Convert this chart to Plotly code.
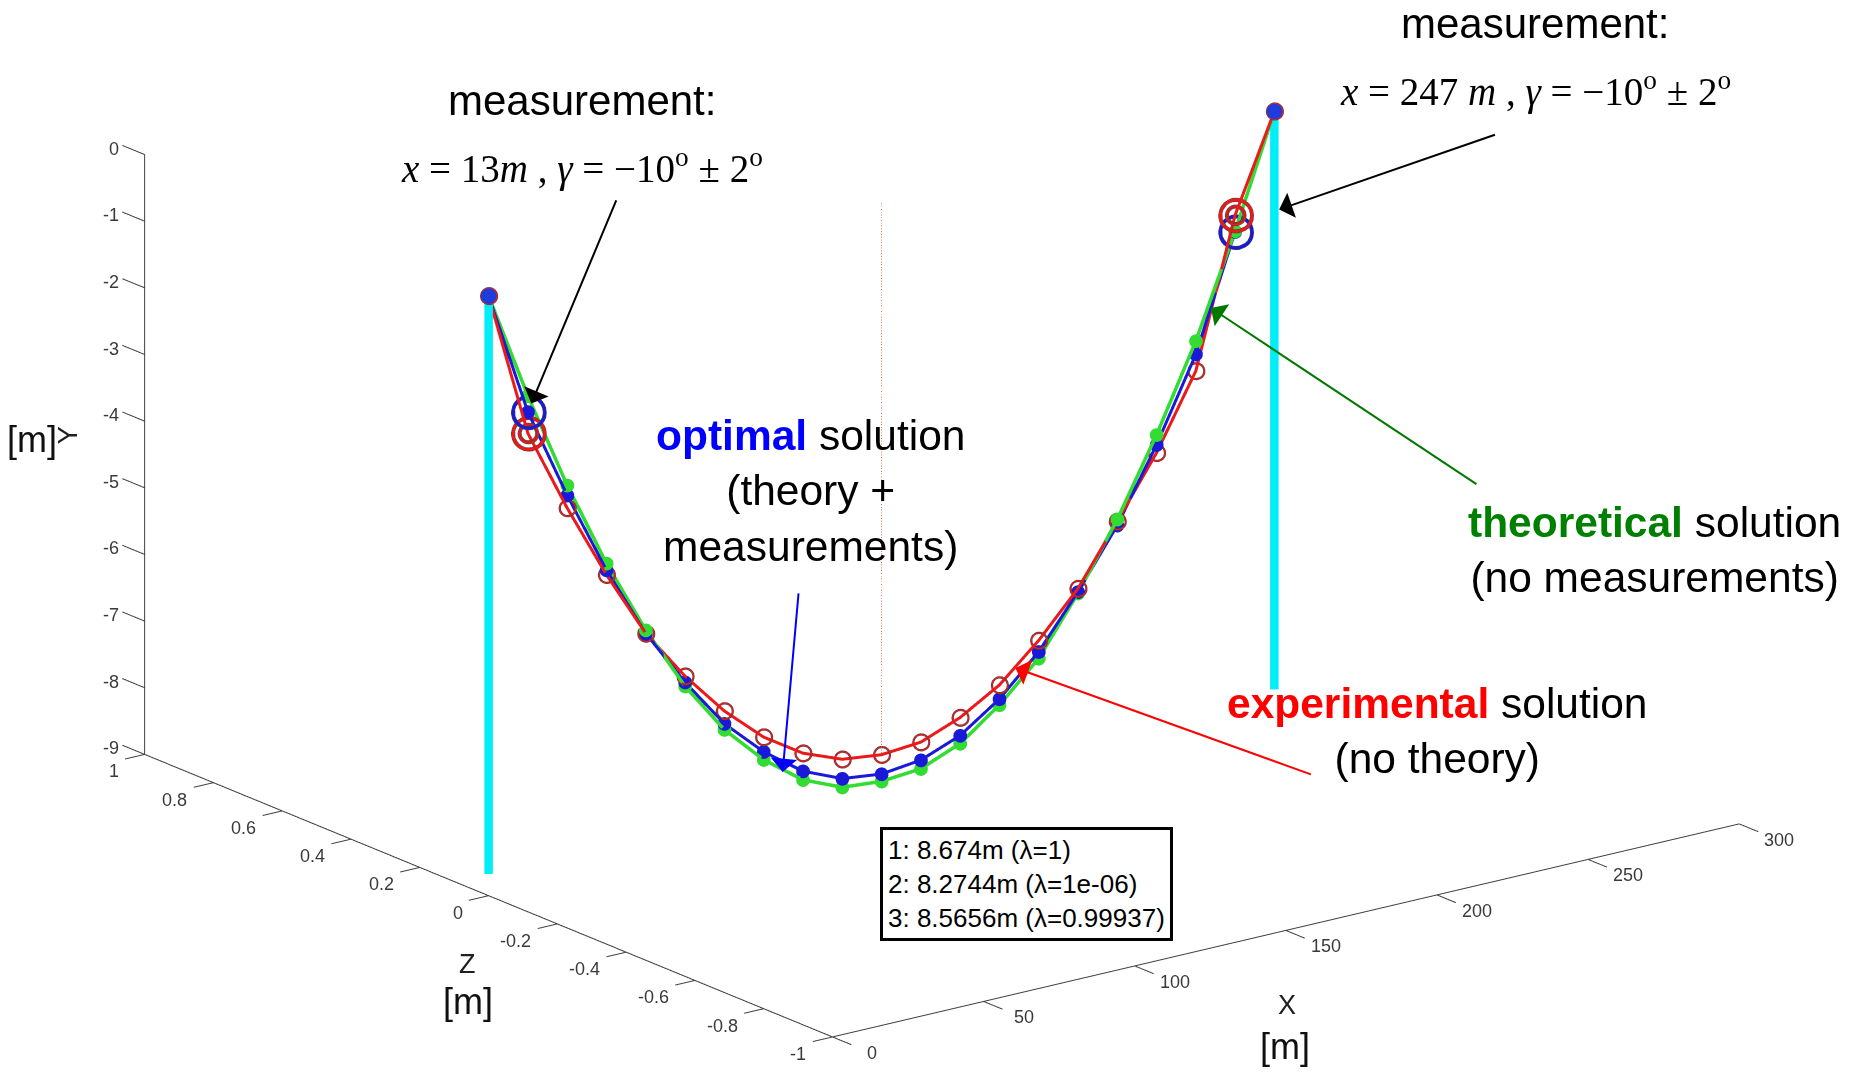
import math
import plotly.graph_objects as go

# ---- cable model data -------------------------------------------------------
# node positions along the span [m]
x_nodes = [0, 13, 26, 39, 52, 65, 78, 91, 104, 117, 130,
           143, 156, 169, 182, 195, 208, 221, 234, 247, 260]

# vertical node positions [m]
y_theoretical = [0.0, -1.64, -3.12, -4.43, -5.57, -6.55, -7.34, -7.93, -8.37, -8.62, -8.67,
                 -8.62, -8.38, -7.94, -7.38, -6.54, -5.57, -4.44, -3.17, -1.66, 0.0]
y_experimental = [0.0, -2.20, -3.46, -4.60, -5.62, -6.40, -7.06, -7.59, -7.97, -8.20, -8.27,
                  -8.22, -7.99, -7.64, -7.11, -6.47, -5.60, -4.71, -3.62, -1.42, 0.0]
y_optimal = [0.0, -1.88, -3.27, -4.53, -5.62, -6.49, -7.25, -7.81, -8.24, -8.49, -8.56,
             -8.49, -8.26, -7.85, -7.28, -6.52, -5.66, -4.59, -3.37, -1.67, 0.0]

# out-of-plane coordinate of the cable (planar cable)
z_cable = 0.0

# indices of the measured nodes (x = 13 m and x = 247 m)
measured_idx = [1, 19]

# supports and sag values
support_x = [0, 260]
support_depth = -8.674
mid_x = 130
mid_sag = -8.2744

sag_lines = ["1: 8.674m (λ=1)", "2: 8.2744m (λ=1e-06)", "3: 8.5656m (λ=0.99937)"]

# axes
x_ticks = [0, 50, 100, 150, 200, 250, 300]
z_ticks = [1, 0.8, 0.6, 0.4, 0.2, 0, -0.2, -0.4, -0.6, -0.8, -1]
y_ticks = [0, -1, -2, -3, -4, -5, -6, -7, -8, -9]
x_lim = [0, 300]
z_lim = [-1, 1]
y_lim = [-9, 0]

W, H = 1855, 1074
AXIS_COLOR = "#404040"
RED = "rgb(235,25,25)"
BLUE = "rgb(25,25,215)"
GREEN = "rgb(50,220,50)"
CYAN = "rgb(0,238,248)"

fig = go.Figure()

# supports (poles)
for sx in support_x:
    fig.add_trace(go.Scatter3d(
        x=[sx, sx], y=[z_cable, z_cable], z=[0, support_depth],
        mode="lines", line=dict(color=CYAN, width=17),
        hoverinfo="skip", showlegend=False))

# mid-span reference line
fig.add_trace(go.Scatter3d(
    x=[mid_x, mid_x], y=[z_cable, z_cable], z=[0, mid_sag],
    mode="lines", line=dict(color="rgb(215,120,100)", width=2, dash="dot"),
    hoverinfo="skip", showlegend=False))

zc = [z_cable] * len(x_nodes)

# theoretical solution
fig.add_trace(go.Scatter3d(
    x=x_nodes, y=zc, z=y_theoretical, mode="lines+markers",
    line=dict(color=GREEN, width=7),
    marker=dict(symbol="circle", size=8, color=GREEN),
    hoverinfo="skip", showlegend=False))

# optimal solution
fig.add_trace(go.Scatter3d(
    x=x_nodes, y=zc, z=y_optimal, mode="lines+markers",
    line=dict(color=BLUE, width=6),
    marker=dict(symbol="circle", size=8, color=BLUE),
    hoverinfo="skip", showlegend=False))

# experimental solution
fig.add_trace(go.Scatter3d(
    x=x_nodes, y=zc, z=y_experimental, mode="lines+markers",
    line=dict(color=RED, width=6),
    marker=dict(symbol="circle-open", size=10, color=RED, line=dict(width=2)),
    hoverinfo="skip", showlegend=False))

# support end points
fig.add_trace(go.Scatter3d(
    x=support_x, y=[z_cable] * 2, z=[y_optimal[0], y_optimal[-1]], mode="markers",
    marker=dict(symbol="circle", size=9, color="rgb(30,60,220)"),
    hoverinfo="skip", showlegend=False))

# measured nodes
mx = [x_nodes[i] for i in measured_idx]
mz = [z_cable] * len(measured_idx)
fig.add_trace(go.Scatter3d(
    x=mx, y=mz, z=[y_optimal[i] for i in measured_idx], mode="markers",
    marker=dict(symbol="circle-open", size=20, color=BLUE, line=dict(width=3)),
    hoverinfo="skip", showlegend=False))
for s in (20, 12):
    fig.add_trace(go.Scatter3d(
        x=mx, y=mz, z=[y_experimental[i] for i in measured_idx], mode="markers",
        marker=dict(symbol="circle-open", size=s, color=RED, line=dict(width=3)),
        hoverinfo="skip", showlegend=False))

# ---- hand-drawn axes (MATLAB style, no box) -------------------------------
ax_x, ax_y, ax_z = [], [], []


def seg(p, q):
    ax_x.extend([p[0], q[0], None])
    ax_y.extend([p[1], q[1], None])
    ax_z.extend([p[2], q[2], None])


seg((x_lim[0], z_lim[0], y_lim[0]), (x_lim[1], z_lim[0], y_lim[0]))   # X axis
seg((x_lim[0], z_lim[1], y_lim[0]), (x_lim[0], z_lim[0], y_lim[0]))   # Z axis
seg((x_lim[0], z_lim[1], y_lim[0]), (x_lim[0], z_lim[1], y_lim[1]))   # Y axis
for t in x_ticks:
    seg((t, z_lim[0], y_lim[0]), (t, z_lim[0] - 0.055, y_lim[0]))
for t in z_ticks:
    seg((x_lim[0], t, y_lim[0]), (x_lim[0] - 6.5, t, y_lim[0]))
for t in y_ticks:
    seg((x_lim[0], z_lim[1], t), (x_lim[0], z_lim[1] + 0.065, t))

fig.add_trace(go.Scatter3d(
    x=ax_x, y=ax_y, z=ax_z, mode="lines",
    line=dict(color=AXIS_COLOR, width=2),
    hoverinfo="skip", showlegend=False))

tick_font = dict(family="Liberation Sans Narrow, Arial Narrow, Liberation Sans",
                 size=18, color="#3a3a3a")
scene_ann = []
for t in x_ticks:
    scene_ann.append(dict(x=t, y=z_lim[0], z=y_lim[0], text=f"{t:g}", showarrow=False,
                          xanchor="center", yanchor="middle", xshift=40, yshift=-16,
                          font=tick_font))
for t in z_ticks:
    scene_ann.append(dict(x=x_lim[0], y=t, z=y_lim[0], text=f"{t:g}", showarrow=False,
                          xanchor="right", yanchor="middle", xshift=-24, yshift=-17,
                          font=tick_font))
for t in y_ticks:
    scene_ann.append(dict(x=x_lim[0], y=z_lim[1], z=t, text=f"{t:g}", showarrow=False,
                          xanchor="right", yanchor="middle", xshift=-24, yshift=6,
                          font=tick_font))

# axis titles
title_font = dict(family="Liberation Sans Narrow, Arial Narrow, Liberation Sans",
                  size=27, color="#202020")
unit_font = dict(family="Liberation Sans Narrow, Arial Narrow, Liberation Sans",
                 size=36, color="#101010")
scene_ann += [
    dict(x=150, y=z_lim[0], z=y_lim[0], text="X", showarrow=False, font=title_font,
         xshift=1, yshift=-75),
    dict(x=150, y=z_lim[0], z=y_lim[0], text="[m]", showarrow=False, font=unit_font,
         xshift=-1, yshift=-116),
    dict(x=x_lim[0], y=0, z=y_lim[0], text="Z", showarrow=False, font=title_font,
         xshift=-21, yshift=-68),
    dict(x=x_lim[0], y=0, z=y_lim[0], text="[m]", showarrow=False, font=unit_font,
         xshift=-21, yshift=-106),
    dict(x=x_lim[0], y=z_lim[1], z=-4.5, text="Y", showarrow=False, font=title_font,
         textangle=-90, xshift=-76, yshift=19),
    dict(x=x_lim[0], y=z_lim[1], z=-4.5, text="[m]", showarrow=False,
         font=dict(family="Liberation Sans, Arial", size=36, color="#101010"),
         xshift=-113, yshift=15),
]

# arrows pointing at the curves
arrow = dict(text="", showarrow=True, arrowhead=1, arrowsize=2.2, arrowwidth=2)
scene_ann += [
    dict(arrow, x=x_nodes[1], y=z_cable, z=y_optimal[1], ax=89, ay=-213,
         arrowcolor="black", standoff=9),
    dict(arrow, x=support_x[1], y=z_cable, z=-1.5, ax=222, ay=-77,
         arrowcolor="black", standoff=5),
    dict(arrow, x=239, y=z_cable, z=-2.73, ax=267, ay=177,
         arrowcolor="rgb(0,120,0)", standoff=0),
    dict(arrow, x=174.3, y=z_cable, z=-7.44, ax=297, ay=107,
         arrowcolor="rgb(255,0,0)", standoff=0),
    dict(arrow, x=97.3, y=z_cable, z=-8.18, ax=16, ay=-180,
         arrowcolor="rgb(0,0,255)", standoff=0),
]

# ---- scene / camera ---------------------------------------------------------
xr = [-15, 310]
zr = [-1.15, 1.15]
yr = [-9.3, 0.3]
# relative 3D lengths per data unit (x, z, y)
lx, lz, ly = 3.794, 570.8, 70.2
asp = [(xr[1] - xr[0]) * lx, (zr[1] - zr[0]) * lz, (yr[1] - yr[0]) * ly]
zoom = 1.86 / 1000.0

# viewing direction (elevation / azimuth of the camera)
elev = math.radians(18.1)
azim = math.radians(52.9)
view = (-math.cos(elev) * math.cos(azim), -math.cos(elev) * math.sin(azim), math.sin(elev))
center = (-0.0263, -0.0135, -0.0814)
dist = 2.2

hidden = dict(visible=False, showgrid=False, zeroline=False, showbackground=False,
              showspikes=False)
fig.update_layout(
    width=W, height=H,
    margin=dict(l=0, r=0, t=0, b=0),
    paper_bgcolor="white",
    showlegend=False,
    scene=dict(
        domain=dict(x=[0, 1], y=[0, 1]),
        xaxis=dict(hidden, range=xr),
        yaxis=dict(hidden, range=zr),
        zaxis=dict(hidden, range=yr),
        aspectmode="manual",
        aspectratio=dict(x=asp[0] * zoom, y=asp[1] * zoom, z=asp[2] * zoom),
        camera=dict(
            eye=dict(x=center[0] + view[0] * dist,
                     y=center[1] + view[1] * dist,
                     z=center[2] + view[2] * dist),
            center=dict(x=center[0], y=center[1], z=center[2]),
            up=dict(x=0, y=0, z=1),
            projection=dict(type="orthographic"),
        ),
        bgcolor="white",
        annotations=scene_ann,
    ),
)

# ---- text labels ------------------------------------------------------------
sans = "Arial, Liberation Sans, sans-serif"
serif = "Times New Roman, Liberation Serif, serif"


def px(x, y):
    return x / W, 1 - y / H


labels = [
    (582, 100, "measurement:", sans, 42),
    (582, 166, "<i>x</i> = 13<i>m</i> , <i>γ</i> = −10<sup>o</sup> ± 2<sup>o</sup>", serif, 39),
    (1535, 24, "measurement:", sans, 42),
    (1535, 89, "<i>x</i> = 247 <i>m</i> , <i>γ</i> = −10<sup>o</sup> ± 2<sup>o</sup>", serif, 39),
    (810, 491, "<span style='color:rgb(0,0,255)'><b>optimal</b></span> solution<br>"
               "(theory +<br>measurements)", sans, 42.5),
    (1654, 550, "<span style='color:rgb(0,128,0)'><b>theoretical</b></span> solution<br>"
                "(no measurements)", sans, 42.5),
    (1437, 731, "<span style='color:rgb(255,0,0)'><b>experimental</b></span> solution<br>"
                "(no theory)", sans, 42.5),
]
ann = []
for x, y, txt, fam, size in labels:
    xx, yy = px(x, y)
    ann.append(dict(x=xx, y=yy, xref="paper", yref="paper", text=txt, showarrow=False,
                    xanchor="center", yanchor="middle", align="center",
                    font=dict(family=fam, size=size, color="black")))

# sag summary box
bx, by = px(1026, 884)
ann.append(dict(x=bx, y=by, xref="paper", yref="paper", text="<br>".join(sag_lines),
                showarrow=False, xanchor="center", yanchor="middle", align="left",
                font=dict(family=sans, size=26, color="black"),
                bordercolor="black", borderwidth=3, borderpad=5, bgcolor="white"))

fig.update_layout(annotations=ann)

fig.write_html("out.html")
